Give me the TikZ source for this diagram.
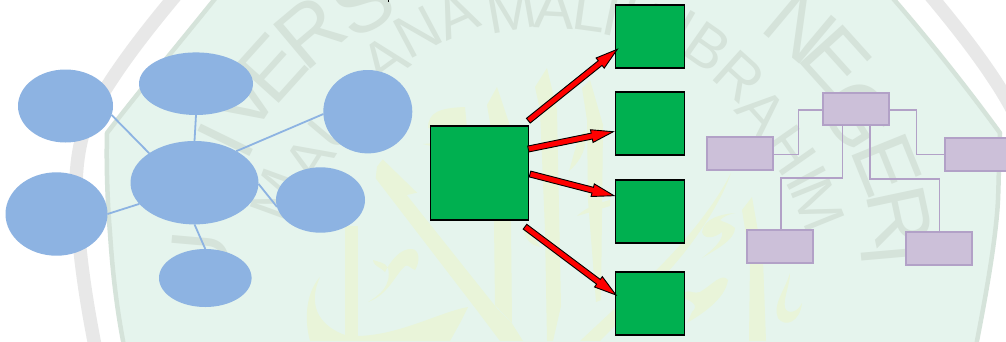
\documentclass[tikz,border=0pt]{standalone}
\usepackage{fontspec}
\setmainfont{Liberation Sans}
\usetikzlibrary{calc,shapes.geometric}
\definecolor{seal}{HTML}{E5F4ED}
\definecolor{sealedge}{HTML}{D5E3DA}
\definecolor{ringc}{HTML}{E8E8E8}
\definecolor{calli}{HTML}{E9F4D9}
\definecolor{blob}{HTML}{8DB3E2}
\definecolor{boxgreen}{HTML}{00B050}
\definecolor{lilac}{HTML}{CCC0D9}
\definecolor{lilacedge}{HTML}{B2A1C7}
\tikzset{
  x=1pt,y=-1pt,
  bubble/.style={ellipse,fill=blob,draw=none,inner sep=0pt,outer sep=0pt},
  bubbleline/.style={draw=blob,line width=1.8pt},
  greenbox/.style={rectangle,fill=boxgreen,draw=black,line width=1.2pt,inner sep=0pt,outer sep=0pt,minimum width=69.5pt,minimum height=63pt},
  lilacbox/.style={rectangle,fill=lilac,draw=lilacedge,line width=2pt,inner sep=0pt,outer sep=0pt,minimum width=66pt,minimum height=32.5pt},
  lilacline/.style={draw=lilacedge,line width=1.6pt},
  redarrow/.style={fill=red,draw=black,line width=.9pt,line join=miter},
  bigletter/.style={text=sealedge,font=\fontsize{84}{84}\selectfont,inner sep=0pt},
  smallletter/.style={text=sealedge,font=\fontsize{60}{60}\selectfont,inner sep=0pt},
}
\newcommand{\blockarrow}[2]{%
  \coordinate (hb) at ($(#2)!22pt!(#1)$);
  \draw[redarrow] ($(#1)!3pt!90:(#2)$) -- ($(hb)!3pt!90:(#2)$) -- ($(hb)!6.5pt!90:(#2)$) -- (#2)
    -- ($(hb)!6.5pt!-90:(#2)$) -- ($(hb)!3pt!-90:(#2)$) -- ($(#1)!3pt!-90:(#2)$) -- cycle;
}
\begin{document}
\begin{tikzpicture}
\useasboundingbox (0,0) rectangle (1006,341);
\clip (0,0) rectangle (1006,341);
% seal background
\fill[white] (0,0) rectangle (1006,341);
\draw[ringc,line width=13.5pt] (176,-5) .. controls (140,38) and (100,90) .. (84,130) .. controls (75,160) and (75,190) .. (77,215) .. controls (80,260) and (86,300) .. (95,346);
\draw[ringc,line width=13.5pt] (930,-5) .. controls (966,38) and (1006,90) .. (1022,130);
\path[fill=seal,draw=sealedge,line width=4.5pt,line join=round]
  (218,-5) .. controls (182,40) and (140,90) .. (107,133)
  .. controls (106,170) and (108,210) .. (110,233) .. controls (113,280) and (118,315) .. (124,346)
  -- (976,346) .. controls (985,300) and (996,240) .. (998,200)
  .. controls (999,175) and (999,150) .. (1000,133)
  .. controls (965,85) and (925,35) .. (890,-5) -- cycle;
% calligraphy
\fill[calli] (382.7,159.3) -- (417,192.7) -- (406.7,195) -- (496.7,308) -- (511.7,323) -- (523,341) -- (500,341) -- (476.7,310) -- (375.7,178.3) -- (377,166.7) -- cycle;
\fill[calli] (320,277) .. controls (308,290) and (303,315) .. (310,341) -- (450,341) -- (460,323) -- (468,307) .. controls (440,312) and (400,335) .. (358,336) -- (345,335) .. controls (325,328) and (305,310) .. (320,277) -- cycle;
\fill[calli] (345,226) -- (358,226) -- (358,337) -- (345,337) -- cycle;
\fill[calli] (368,302) .. controls (380,295) and (392,285) .. (388,268) .. controls (385,262) and (378,262) .. (373,260) .. controls (374,267) and (381,267) .. (385,272) .. controls (390,262) and (400,248) .. (412,249) .. controls (420,250) and (420,262) .. (415,270) .. controls (410,268) and (408,264) .. (405,266) .. controls (395,275) and (388,295) .. (368,302) -- cycle;
\fill[calli] (428,128) .. controls (428,112) and (440,108) .. (465,107) -- (467,128) -- cycle;
\fill[calli] (423,144) -- (435,143) -- (435,147) -- cycle;
\fill[calli] (487,105) -- (497,87) -- (510,126) -- (512,323) -- (495,305) -- (493,140) -- cycle;
\fill[calli] (535,87) -- (547,68) -- (557,110) -- (561,306) -- (553,341) -- (547,341) -- (545,230) -- (540,110) -- cycle;
\fill[calli] (582,88) -- (590,80) -- (603,125) -- (601,300) -- (596,302) -- (588,200) -- (587,120) -- cycle;
\fill[calli] (569,171) .. controls (574,155) and (576,140) .. (585,130) .. controls (588,145) and (582,160) .. (569,171) -- cycle;
\fill[calli] (577,216) .. controls (585,208) and (598,203) .. (610,200) -- (610,206) .. controls (600,209) and (588,213) .. (577,216) -- cycle;
\fill[calli] (523,226) .. controls (530,235) and (537,240) .. (540,247) .. controls (530,245) and (524,238) .. (523,226) -- cycle;
\fill[calli] (731,173) .. controls (715,205) and (680,250) .. (640,285) -- (580,341) -- (600,341) -- (660,280) .. controls (690,250) and (720,205) .. (731,173) -- cycle;
\fill[calli] (702,258) .. controls (715,250) and (735,240) .. (735,228) .. controls (728,222) and (722,222) .. (720,220) .. controls (724,216) and (730,214) .. (735,213) .. controls (722,214) and (704,218) .. (702,232) .. controls (704,240) and (715,238) .. (722,232) .. controls (724,240) and (712,250) .. (702,258) -- cycle;
\fill[calli] (687,323) .. controls (700,315) and (725,300) .. (728,280) .. controls (722,272) and (712,285) .. (700,292) .. controls (690,295) and (686,285) .. (682,298) .. controls (690,300) and (700,305) .. (692,312) -- cycle;
\fill[calli] (742,210) -- (752,197) -- (763,260) -- (766,341) -- (749,341) -- (750,260) -- cycle;
\fill[calli] (790,273) .. controls (785,290) and (772,305) .. (778,318) .. controls (785,328) and (800,322) .. (802,303) .. controls (798,312) and (788,315) .. (785,308) .. controls (783,298) and (790,285) .. (790,273) -- cycle;
% watermark text, outer arc
\node[bigletter,rotate=85] (lu1) at (200,262) {U};
\node[bigletter,rotate=72] (ln1) at (212,185) {N};
\node[bigletter,rotate=64] (li1) at (226,140) {I};
\node[bigletter,rotate=57] (lv1) at (243,100) {V};
\node[bigletter,rotate=48] (le1) at (272,68) {E};
\node[bigletter,rotate=40] (lr1) at (310,32) {R};
\node[bigletter,rotate=30] (ls1) at (362,2) {S};
\node[bigletter,rotate=-40] (ln2) at (800,27) {N};
\node[bigletter,rotate=-48] (le2) at (836,60) {E};
\node[bigletter,rotate=-58] (lg2) at (857,115) {G};
\node[bigletter,rotate=-68] (le3) at (887,165) {E};
\node[bigletter,rotate=-78] (lr3) at (900,217) {R};
\node[bigletter,rotate=-85] (li3) at (890,255) {I};
% watermark text, inner arc
\node[smallletter,rotate=70] (lm4) at (277,195) {M};
\node[smallletter,rotate=58] (la4) at (310,160) {A};
\node[smallletter,rotate=50] (lu4) at (335,125) {U};
\node[smallletter,rotate=42] (ll4) at (360,92) {L};
\node[smallletter,rotate=36] (la5) at (385,60) {A};
\node[smallletter,rotate=28] (ln5) at (418,32) {N};
\node[smallletter,rotate=24] (la6) at (456,15) {A};
\node[smallletter,rotate=10] (lm6) at (512,10) {M};
\node[smallletter,rotate=-3] (la7) at (555,8) {A};
\node[smallletter,rotate=-8] (ll7) at (590,10) {L};
\node[smallletter,rotate=-12] (li7) at (612,15) {I};
\node[smallletter,rotate=-18] (lk7) at (640,20) {K};
\node[smallletter,rotate=-30] (li8) at (683,30) {I};
\node[smallletter,rotate=-35] (lb8) at (708,47) {B};
\node[smallletter,rotate=-42] (lr8) at (739,77) {R};
\node[smallletter,rotate=-48] (la8) at (762,112) {A};
\node[smallletter,rotate=-55] (lh8) at (790,150) {H};
\node[smallletter,rotate=-62] (li9) at (807,178) {I};
\node[smallletter,rotate=-68] (lm9) at (818,205) {M};
\draw[black,line width=.6pt] (388,0) -- (388,2);
% bubble diagram
\node[bubble,minimum width=128pt,minimum height=83.4pt] (hub) at (194.5,182.7) {};
\node[bubble,minimum width=95pt,minimum height=73pt] (b1) at (65.5,106) {};
\node[bubble,minimum width=114pt,minimum height=62.6pt] (b2) at (196,83.7) {};
\node[bubble,minimum width=89pt,minimum height=83.4pt] (b3) at (367.8,111.7) {};
\node[bubble,minimum width=89pt,minimum height=65.4pt] (b5) at (320.5,200) {};
\node[bubble,minimum width=102pt,minimum height=83.4pt] (b6) at (56.5,214) {};
\node[bubble,minimum width=92.6pt,minimum height=58pt] (b7) at (205.3,278) {};
\draw[bubbleline] (b1.-11) -- (hub.147);
\draw[bubbleline] (b2.south) -- (hub.north);
\draw[bubbleline] (b3.183) -- (hub.37);
\draw[bubbleline] (b5.189) -- (hub.-1);
\draw[bubbleline] (b6.0) -- (hub.201);
\draw[bubbleline] (b7.north) -- (hub.south);
% green boxes
\node[greenbox,minimum width=98pt,minimum height=94pt] (g0) at (479.6,173) {};
\node[greenbox] (g1) at (650,36.5) {};
\node[greenbox] (g2) at (650,123.5) {};
\node[greenbox] (g3) at (650,211.5) {};
\node[greenbox] (g4) at (650,303.5) {};
\coordinate (t1) at (528.3,120.7);
\coordinate (t2) at (528.3,149);
\coordinate (t3) at (530,174);
\coordinate (t4) at (525,226.7);
\coordinate (h1) at (617.3,49.3);
\coordinate (h2) at (613.3,131.7);
\coordinate (h3) at (614,195.7);
\coordinate (h4) at (616,295);
\blockarrow{t1}{h1}
\blockarrow{t2}{h2}
\blockarrow{t3}{h3}
\blockarrow{t4}{h4}
% lilac chart
\node[lilacbox] (pm) at (855.8,108.8) {};
\node[lilacbox] (pl) at (740.3,153.3) {};
\node[lilacbox] (pr) at (978.3,154.7) {};
\node[lilacbox] (pa) at (780.3,246.7) {};
\node[lilacbox] (pb) at (938.5,248.3) {};
\draw[lilacline] (pm.west |- 0,110) -| (798.3,154.5) -- (pl.east |- 0,154.5);
\draw[lilacline] (pm.east |- 0,110) -| (916.3,154.5) -- (pr.west |- 0,154.5);
\draw[lilacline] (842.3,125.1) -- (842.3,177.7) -| (pa.north -| 781,0);
\draw[lilacline] (870,125.1) -- (870,179) -| (pb.north -| 939.3,0);
\end{tikzpicture}
\end{document}
